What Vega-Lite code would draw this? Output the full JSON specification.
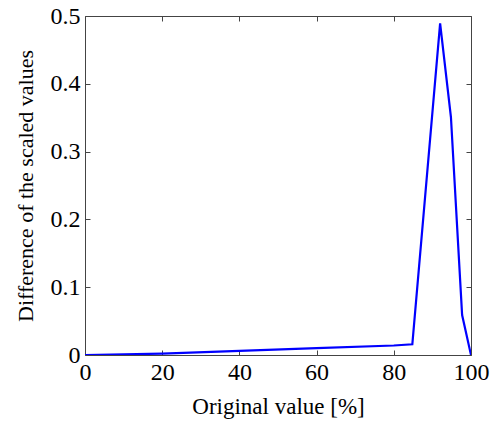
{
  "$schema": "https://vega.github.io/schema/vega-lite/v6.json",
  "autosize": "none",
  "width": 386,
  "height": 339,
  "padding": {"left": 85, "top": 16, "right": 23, "bottom": 66},
  "background": "white",
  "config": {
    "view": {"stroke": "#444444", "strokeWidth": 1}
  },
  "data": {
    "values": [
      {"x": 0, "y": 0},
      {"x": 20, "y": 0.002},
      {"x": 40, "y": 0.006},
      {"x": 60, "y": 0.010},
      {"x": 80, "y": 0.014},
      {"x": 84.8, "y": 0.0158},
      {"x": 92, "y": 0.489},
      {"x": 94.8, "y": 0.351},
      {"x": 97.7, "y": 0.059},
      {"x": 100, "y": 0}
    ]
  },
  "layer": [
    {
      "mark": {"type": "line", "color": "#0000FF", "strokeWidth": 2.2, "clip": true},
      "encoding": {
        "x": {"field": "x", "type": "quantitative", "scale": {"domain": [0, 100], "nice": false},
          "axis": {"orient": "bottom", "values": [0, 20, 40, 60, 80, 100], "title": "Original value [%]",
            "grid": false, "domain": false, "tickColor": "#444444", "tickSize": -5, "labelFlush": false, "labelOverlap": false,
            "labelFont": "Liberation Serif", "titleFont": "Liberation Serif", "labelFontSize": 24, "titleFontSize": 23,
            "labelColor": "black", "titleColor": "black", "titleFontWeight": "normal",
            "labelPadding": 10, "titlePadding": 11}},
        "y": {"field": "y", "type": "quantitative", "scale": {"domain": [0, 0.5], "nice": false},
          "axis": {"orient": "left", "values": [0, 0.1, 0.2, 0.3, 0.4, 0.5], "title": "Difference of the scaled values",
            "grid": false, "domain": false, "tickColor": "#444444", "tickSize": -5, "labelFlush": false, "labelOverlap": false,
            "labelFont": "Liberation Serif", "titleFont": "Liberation Serif", "labelFontSize": 24, "titleFontSize": 22,
            "labelColor": "black", "titleColor": "black", "titleFontWeight": "normal",
            "labelPadding": 10, "titlePadding": 13, "labelExpr": "datum.value == 0 ? '0' : format(datum.value, '.1f')"}}
      }
    },
    {
      "mark": {"type": "point", "opacity": 0},
      "encoding": {
        "x": {"field": "x", "type": "quantitative",
          "axis": {"orient": "top", "values": [0, 20, 40, 60, 80, 100], "labels": false, "title": null, "grid": false, "domain": false, "tickColor": "#444444", "tickSize": -5}},
        "y": {"field": "y", "type": "quantitative",
          "axis": {"orient": "right", "values": [0, 0.1, 0.2, 0.3, 0.4, 0.5], "labels": false, "title": null, "grid": false, "domain": false, "tickColor": "#444444", "tickSize": -5}}
      }
    }
  ],
  "resolve": {"axis": {"x": "independent", "y": "independent"}}
}
